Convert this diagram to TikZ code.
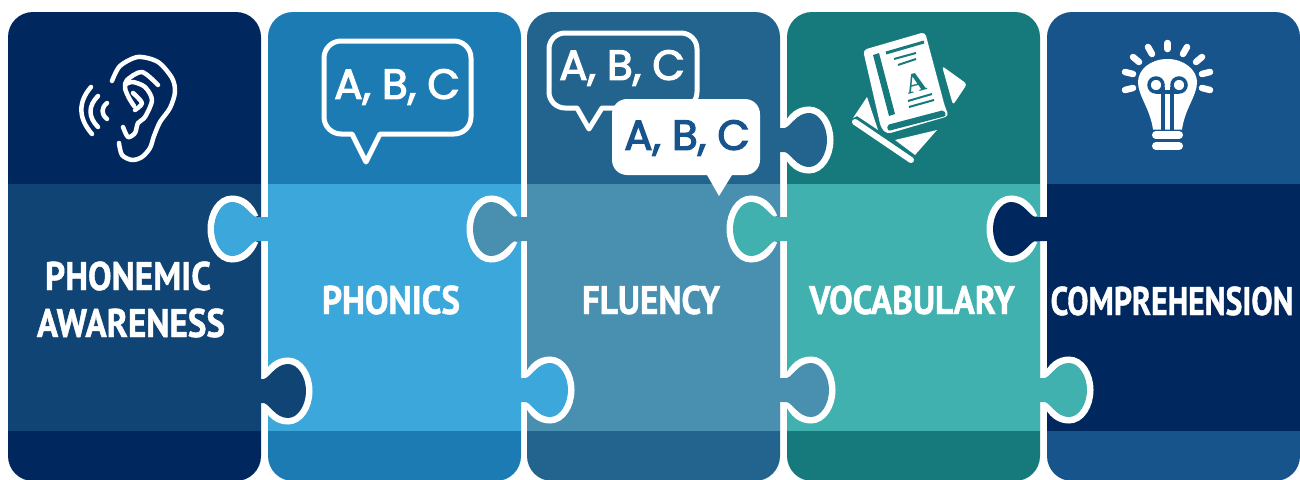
\documentclass[tikz,border=0pt]{standalone}
\usepackage{fontspec}
\newfontfamily\labelfont[BoldFeatures={FakeBold=1.2}]{PT Sans}
\newfontfamily\letterfont[FakeBold=3]{Poppins}
\newfontfamily\serifletter{Liberation Serif}

\definecolor{navy}{HTML}{00275E}
\definecolor{navyband}{HTML}{104475}
\definecolor{sky}{HTML}{1C7BB3}
\definecolor{skyband}{HTML}{3CA7DA}
\definecolor{steel}{HTML}{22648D}
\definecolor{steelband}{HTML}{488FB0}
\definecolor{teal}{HTML}{167A7C}
\definecolor{tealband}{HTML}{40B1AF}
\definecolor{royal}{HTML}{18548C}

\tikzset{
  piece/.style={rectangle, minimum width=253pt, minimum height=469pt, rounded corners=25pt, inner sep=0pt},
  band/.style={rectangle, minimum width=253pt, minimum height=247pt, inner sep=0pt},
  word/.style={text=white, inner sep=0pt, font=\labelfont\bfseries\fontsize{40}{44}\selectfont, xscale=.88, transform shape},
  letters/.style={inner sep=0pt, font=\letterfont\fontsize{42}{46}\selectfont},
  tabline/.style={draw=white, line width=7pt},
  iconline/.style={draw=white, line width=4.5pt, line cap=round, line join=round},
  rayline/.style={draw=white, line width=6.5pt, line cap=round},
  bubbleline/.style={draw=white, line width=5pt, line join=round}
}

% x, y, direction, colour
\newcommand{\puzzletab}[4]{
  \begin{scope}[shift={(#1,#2)}, xscale=#3]
    \draw[tabline] (13,-12) .. controls (18,-24) and (26,-30) .. (36,-30)
      .. controls (48,-30) and (57,-16) .. (57,0)
      .. controls (57,16) and (48,30) .. (36,30)
      .. controls (26,30) and (18,24) .. (13,12);
    \fill[#4] (0,-12) -- (12,-12) .. controls (18,-14) and (24,-27) .. (36,-27)
      .. controls (46,-27) and (54,-14) .. (54,0)
      .. controls (54,14) and (46,27) .. (36,27)
      .. controls (24,27) and (18,14) .. (12,12) -- (0,12) -- cycle;
  \end{scope}
}

\begin{document}
\begin{tikzpicture}[x=1pt, y=-1pt]
  \useasboundingbox (0,0) rectangle (1300,479);
  \clip (0,0) rectangle (1300,479);

  % Pieces
  \node[piece, fill=navy] (piece1) at (134.5,246.5) {};
  \node[piece, fill=sky] (piece2) at (394.5,246.5) {};
  \node[piece, fill=steel] (piece3) at (653.5,246.5) {};
  \node[piece, fill=teal] (piece4) at (913.5,246.5) {};
  \node[piece, fill=royal] (piece5) at (1173.5,246.5) {};

  \node[band, fill=navyband] (band1) at (134.5,307.5) {};
  \node[band, fill=skyband] (band2) at (394.5,307.5) {};
  \node[band, fill=steelband] (band3) at (653.5,307.5) {};
  \node[band, fill=tealband] (band4) at (913.5,307.5) {};
  \node[band, fill=navy] (band5) at (1173.5,307.5) {};

  % Tabs
  \puzzletab{268}{229}{-1}{skyband}
  \puzzletab{527}{229}{-1}{steelband}
  \puzzletab{787}{229}{-1}{tealband}
  \puzzletab{1047}{229}{-1}{navy}
  \puzzletab{252}{391}{1}{navyband}
  \puzzletab{514}{390}{1}{skyband}
  \puzzletab{775}{390}{1}{steelband}
  \puzzletab{1033}{390}{1}{tealband}
  \puzzletab{773}{140}{1}{steel}

  % Words
  \node[word] (phonemic) at (128,276) {PHONEMIC};
  \node[word] (awareness) at (131,323) {AWARENESS};
  \node[word] (phonics) at (391,300) {PHONICS};
  \node[word] (fluency) at (651,300) {FLUENCY};
  \node[word] (vocabulary) at (912,300) {VOCABULARY};
  \node[word, xscale=.9] (comprehension) at (1172,301) {COMPREHENSION};

  % Ear
  \draw[iconline] plot[smooth] coordinates {(112,81) (120,66) (138,57) (158,62) (172,78) (175,92) (170,108) (160,122) (154,136) (150,148) (142,157) (132,160) (122,155) (119,143)};
  \draw[iconline] plot[smooth] coordinates {(158,85) (142,72) (127,80) (125,88) (129,98) (134,106)};
  \draw[iconline] plot[smooth] coordinates {(126,84) (133,82) (145,87) (152,100) (145,117) (138,123) (135,133) (128,137) (123,127)};
  \draw[iconline] plot[smooth] coordinates {(133,93) (142,103) (135,110)};
  \draw[iconline] (91,87) .. controls (78,102) and (78,118) .. (92,134);
  \draw[iconline] (98,96) .. controls (88,106) and (88,117) .. (98,127);
  \draw[iconline] (107,103) .. controls (101,108) and (101,114) .. (107,119);

  % Bubbles
  \draw[bubbleline] [rounded corners=17pt] (324,41) -- (471,41) -- (471,134) [sharp corners] -- (380,134) -- (366,162) -- (352,134) [rounded corners=17pt] -- (324,134) -- cycle;
  \node[letters, text=white] (abc1) at (397,87) {A, B, C};
  \draw[bubbleline] [rounded corners=16pt] (549,33) -- (697,33) -- (697,108) [sharp corners] -- (602,108) -- (589,129) -- (577,108) [rounded corners=16pt] -- (549,108) -- cycle;
  \node[letters, text=white] (abc2) at (622,68) {A, B, C};
  \fill[white] [rounded corners=15pt] (612,99) -- (760,99) -- (760,175) [sharp corners] -- (732,175) -- (719,196) -- (707,175) [rounded corners=15pt] -- (612,175) -- cycle;
  \node[letters, text=royal] (abc3) at (687,138) {A, B, C};

  % Book
  \fill[white] (867,97) -- (878,130) -- (857,116) -- (853,118) -- cycle;
  \fill[white] (937,130) -- (915,155) -- (895,140) -- cycle;
  \draw[white, line width=6pt, line cap=round] (855,122) -- (911,160);
  \fill[white, rounded corners=3pt] (942,66) -- (967,84) -- (953,105) -- cycle;
  \fill[white, rounded corners=4pt] (863,50) -- (925,32) -- (945,107) -- (949,116) -- (887,134) -- (881,128) -- cycle;
  \fill[teal] (873,55) -- (879,53) -- (895,114) -- (889,116) -- cycle;
  \fill[teal, rounded corners=2pt] (887,125) -- (944,110) -- (946,116) -- (888,131) -- cycle;
  \draw[teal, line width=3pt] (886,53) -- (924,42);
  \draw[teal, line width=2pt] (894,59) -- (916,53);
  \draw[teal, line width=2pt] (898,65) -- (916,59);
  \draw[teal, line width=2pt] (908,101) -- (932,94);
  \draw[teal, line width=2pt] (909,107) -- (934,100);
  \node[text=teal, inner sep=0pt, rotate=15, font=\serifletter\bfseries\fontsize{28}{28}\selectfont] (booka) at (916,83) {A};

  % Bulb
  \fill[white] (1167.5,59) .. controls (1150,59) and (1138,70) .. (1138,82) .. controls (1138,96) and (1150,108) .. (1153,129.5) -- (1182,129.5) .. controls (1185,108) and (1197,96) .. (1197,82) .. controls (1197,70) and (1184,59) .. (1167.5,59) -- cycle;
  \draw[royal, line width=3.5pt] (1156,85) circle (7pt);
  \draw[royal, line width=3.5pt] (1179,85) circle (7pt);
  \draw[royal, line width=3.5pt] (1156,92) -- (1179,92);
  \draw[royal, line width=3.5pt] (1163,87) -- (1163,130);
  \draw[royal, line width=3.5pt] (1172,87) -- (1172,130);
  \draw[rayline, line width=8pt] (1156,135) -- (1179,135);
  \draw[rayline, line width=8pt] (1156,146) -- (1179,146);
  \draw[rayline] (1167.5,43) -- (1167.5,49);
  \draw[rayline] (1148,47) -- (1152,54);
  \draw[rayline] (1133,57) -- (1139,62);
  \draw[rayline] (1125,72) -- (1133,74);
  \draw[rayline] (1125,90) -- (1133,88);
  \draw[rayline] (1187,47) -- (1183,54);
  \draw[rayline] (1202,57) -- (1196,62);
  \draw[rayline] (1210,72) -- (1202,74);
  \draw[rayline] (1210,90) -- (1202,88);
\end{tikzpicture}
\end{document}
